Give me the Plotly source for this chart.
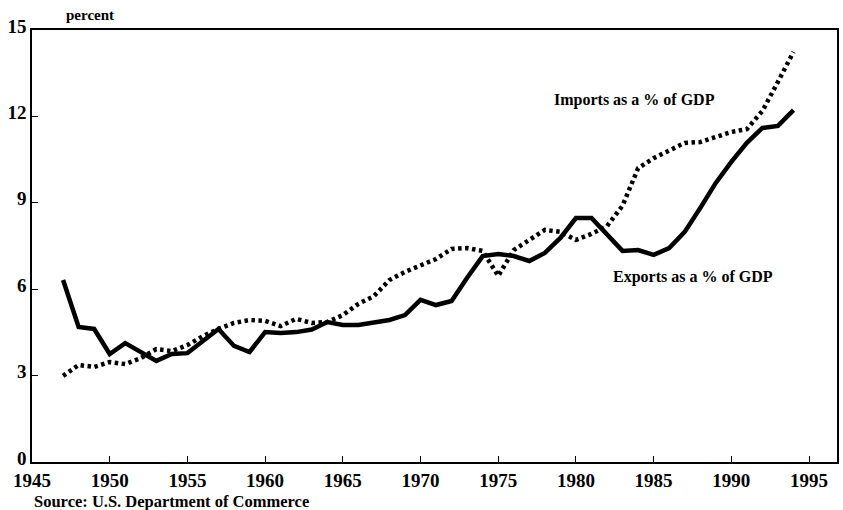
import plotly.graph_objects as go

years = list(range(1947, 1995))

exports_pct = [6.32, 4.69, 4.62, 3.75, 4.13, 3.82, 3.51, 3.75, 3.78, 4.20,
               4.62, 4.03, 3.82, 4.51, 4.48, 4.51, 4.60, 4.86, 4.76, 4.76,
               4.83, 4.93, 5.10, 5.63, 5.45, 5.59, 6.40, 7.15, 7.22, 7.15,
               6.98, 7.26, 7.78, 8.47, 8.47, 7.90, 7.33, 7.36, 7.19, 7.43,
               7.99, 8.82, 9.69, 10.42, 11.08, 11.60, 11.67, 12.22]

imports_pct = [2.99, 3.37, 3.30, 3.47, 3.40, 3.61, 3.92, 3.85, 4.06, 4.37,
               4.62, 4.83, 4.93, 4.90, 4.72, 4.97, 4.83, 4.86, 5.10, 5.49,
               5.76, 6.32, 6.60, 6.84, 7.05, 7.40, 7.43, 7.33, 6.46, 7.36,
               7.71, 8.06, 7.99, 7.71, 7.92, 8.19, 8.90, 10.20, 10.55, 10.83,
               11.08, 11.11, 11.28, 11.46, 11.56, 12.19, 13.20, 14.24]

x_ticks = [1945, 1950, 1955, 1960, 1965, 1970, 1975, 1980, 1985, 1990, 1995]
y_ticks = [0, 3, 6, 9, 12, 15]

SERIF = "Liberation Serif"

fig = go.Figure()
fig.add_trace(go.Scatter(x=years, y=imports_pct, mode="lines",
                         line=dict(color="black", width=4.5, dash="3.5px,3.5px"),
                         showlegend=False, name="Imports"))
fig.add_trace(go.Scatter(x=years, y=exports_pct, mode="lines",
                         line=dict(color="black", width=4.5),
                         showlegend=False, name="Exports"))

tickfont = dict(family=SERIF, size=19, color="black", weight="bold")

fig.update_layout(
    width=843, height=510,
    margin=dict(l=32, r=4, t=30, b=48),
    paper_bgcolor="white", plot_bgcolor="white",
    font=dict(family=SERIF, color="black"),
    xaxis=dict(range=[1945, 1996.8], tickvals=x_ticks, ticks="inside", ticklen=6,
               tickcolor="black", showline=True, linecolor="black", linewidth=1.5,
               mirror=True, showgrid=False, zeroline=False, tickfont=tickfont),
    yaxis=dict(range=[0, 15], tickvals=y_ticks, ticks="inside", ticklen=6,
               tickcolor="black", showline=True, linecolor="black", linewidth=1.5,
               mirror=True, showgrid=False, zeroline=False, tickfont=tickfont,
               ticklabelshift=-4),
    annotations=[
        dict(text="<b>percent</b>", xref="paper", yref="paper", x=0.04, y=1.0,
             xanchor="left", yanchor="bottom", yshift=5, showarrow=False,
             font=dict(family=SERIF, size=15)),
        dict(text="<b>Imports as a % of GDP</b>", xref="x", yref="y", x=1983.8, y=12.57,
             showarrow=False, font=dict(family=SERIF, size=16)),
        dict(text="<b>Exports as a % of GDP</b>", xref="x", yref="y", x=1987.55, y=6.42,
             showarrow=False, font=dict(family=SERIF, size=16)),
        dict(text="<b>Source: U.S. Department of Commerce</b>", xref="paper", yref="paper",
             x=0.0, y=0, xanchor="left", yanchor="top", yshift=-28, showarrow=False,
             font=dict(family=SERIF, size=16.5)),
    ],
)

fig.write_html("out.html", config={"displayModeBar": False},
               post_script="document.body.style.margin='0';")
